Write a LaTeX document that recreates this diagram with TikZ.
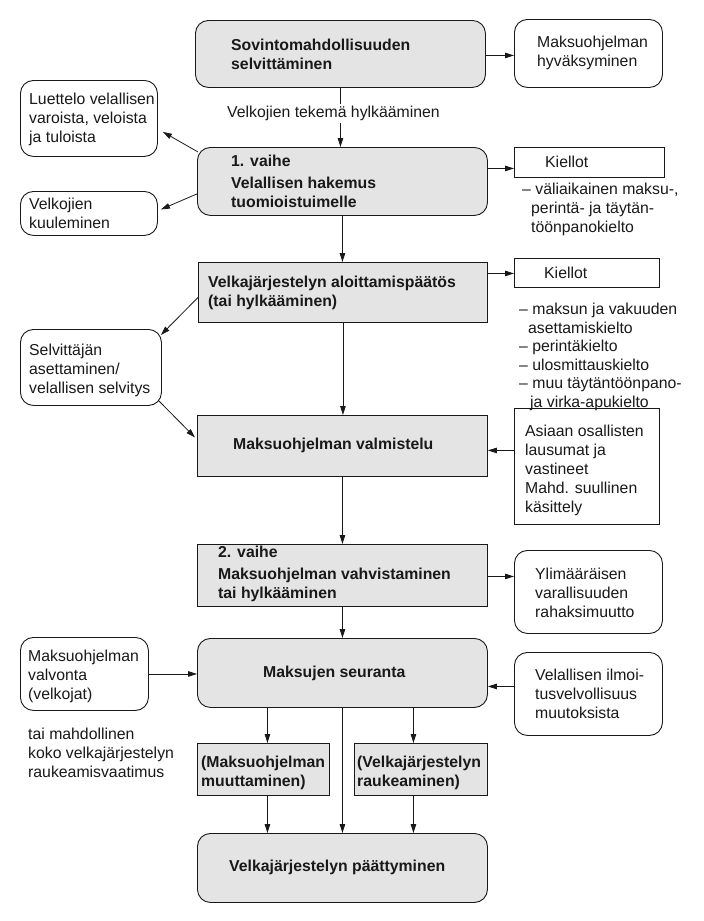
\documentclass[tikz,border=0pt]{standalone}
\usepackage{fontspec}
\setmainfont{Liberation Sans}
\usetikzlibrary{arrows.meta}
\definecolor{boxgray}{RGB}{228,228,228}
\definecolor{ink}{RGB}{25,25,25}
\tikzset{
  base/.style={draw=ink, line width=0.9pt, anchor=north west, inner sep=0pt},
  grayround/.style={base, fill=boxgray, rounded corners=13pt},
  grayrect/.style={base, fill=boxgray},
  whiteround/.style={base, fill=white, rounded corners=13pt},
  whiterect/.style={base, fill=white},
  txt/.style={anchor=west, inner sep=0pt, align=left, font=\fontsize{15.8}{19}\selectfont, text=ink},
  txtb/.style={txt, font=\fontsize{15.8}{19}\selectfont\bfseries},
  arr/.style={draw=ink, line width=0.8pt, -{Triangle[length=9pt,width=5.5pt]}},
}
\begin{document}
\begin{tikzpicture}[x=1pt,y=-1pt]
\useasboundingbox (0,0) rectangle (704,921);
\fill[white] (0,0) rectangle (704,921);

% ---- boxes ----
\node[grayround, minimum width=290pt, minimum height=67pt] (b1) at (195,20) {};
\node[whiteround, minimum width=148pt, minimum height=68pt] (hyv) at (514,19) {};
\node[whiteround, minimum width=137pt, minimum height=76pt] (lut) at (20,80) {};
\node[grayround, minimum width=290pt, minimum height=68pt] (b2) at (197,147) {};
\node[whiterect, minimum width=150pt, minimum height=30pt] (k1) at (514,147) {};
\node[whiteround, minimum width=137pt, minimum height=44pt] (kuul) at (20,191) {};
\node[grayrect, minimum width=289pt, minimum height=60pt] (b3) at (198,262) {};
\node[whiterect, minimum width=145pt, minimum height=29pt] (k2) at (514,258) {};
\node[whiteround, minimum width=141pt, minimum height=76pt] (sel) at (20,329) {};
\node[grayrect, minimum width=290pt, minimum height=61pt] (b4) at (197,415) {};
\node[whiterect, minimum width=145pt, minimum height=116pt] (asi) at (514,408) {};
\node[grayrect, minimum width=290pt, minimum height=62pt] (b5) at (197,544) {};
\node[whiteround, minimum width=148pt, minimum height=83pt] (yli) at (514,550) {};
\node[grayround, minimum width=290pt, minimum height=69pt] (b6) at (197,638) {};
\node[whiteround, minimum width=128pt, minimum height=73pt] (valv) at (20,637) {};
\node[whiteround, minimum width=148pt, minimum height=83pt] (ilm) at (514,652) {};
\node[grayrect, minimum width=132pt, minimum height=52pt] (bm) at (197,743) {};
\node[grayrect, minimum width=133pt, minimum height=52pt] (br) at (354,743) {};
\node[grayround, minimum width=290pt, minimum height=69pt] (bf) at (197,833) {};

% ---- texts ----
\node[txtb] (t1) at (231,54) {Sovintomahdollisuuden\\selvittäminen};
\node[txt] (thyv) at (537,52.5) {Maksuohjelman\\hyväksyminen};
\node[txt] (tlut) at (29,119) {Luettelo velallisen\\varoista, veloista\\ja tuloista};
\node[txtb] (t2) at (231,181.5) {1. vaihe\\[3pt]Velallisen hakemus\\tuomioistuimelle};
\node[txt] (tk1) at (545,162) {Kiellot};
\node[txt] (tk1l) at (522,209) {– väliaikainen maksu-,\\\hspace*{9pt}perintä- ja täytän-\\\hspace*{9pt}töönpanokielto};
\node[txt] (tkuul) at (29,213) {Velkojien\\kuuleminen};
\node[txtb] (t3) at (208,293) {Velkajärjestelyn aloittamispäätös\\(tai hylkääminen)};
\node[txt] (tk2) at (544,272.5) {Kiellot};
\node[txt, font=\fontsize{15.8}{18.6}\selectfont] (tk2l) at (519,357) {– maksun ja vakuuden\\\hspace*{9pt}asettamiskielto\\– perintäkielto\\– ulosmittauskielto\\– muu täytäntöönpano-\\\hspace*{11pt}ja virka-apukielto};
\node[txt] (tsel) at (29,370) {Selvittäjän\\asettaminen/\\velallisen selvitys};
\node[txtb] (t4) at (233,445.5) {Maksuohjelman valmistelu};
\node[txt] (tasi) at (525,470) {Asiaan osallisten\\lausumat ja\\vastineet\\Mahd. suullinen\\käsittely};
\node[txtb] (t5) at (218,574) {2. vaihe\\[3pt]Maksuohjelman vahvistaminen\\tai hylkääminen};
\node[txt] (tyli) at (535,593) {Ylimääräisen\\varallisuuden\\rahaksimuutto};
\node[txtb] (t6) at (263,673) {Maksujen seuranta};
\node[txt] (tvalv) at (28,676) {Maksuohjelman\\valvonta\\(velkojat)};
\node[txt] (tilm) at (535,694) {Velallisen ilmoi-\\tusvelvollisuus\\muutoksista};
\node[txt] (ttai) at (28,752.5) {tai mahdollinen\\koko velkajärjestelyn\\raukeamisvaatimus};
\node[txtb] (tbm) at (201,772.5) {(Maksuohjelman\\muuttaminen)};
\node[txtb] (tbr) at (357,772.5) {(Velkajärjestelyn\\raukeaminen)};
\node[txtb] (tbf) at (229,867) {Velkajärjestelyn päättyminen};

% ---- connectors ----
\draw[arr] ([yshift=-1.5pt]b1.east) -- ([yshift=-1.5pt]b1.east -| hyv.west);
\draw[arr] (b1.south) -- node[pos=0.43, xshift=-7pt, fill=white, inner sep=2pt, font=\fontsize{15.8}{19}\selectfont, text=ink] (lab) {Velkojien tekemä hylkääminen} (b1.south |- b2.north);
\draw[arr] ([shift={(1pt,-5pt)}]b2.north west) -- ([shift={(5pt,25pt)}]lut.south east);
\draw[arr] ([yshift=22pt]b2.south west) -- ([shift={(3pt,4pt)}]kuul.east);
\draw[arr] ([yshift=13pt]b2.east) -- ([yshift=13pt]b2.east -| k1.west);
\draw[arr] (b2.south) -- (b2.south |- b3.north);
\draw[arr] ([yshift=19pt]b3.east) -- ([yshift=19pt]b3.east -| k2.west);
\draw[arr] ([yshift=-5pt]b3.west) -- ([shift={(-1pt,-6pt)}]sel.north east);
\draw[arr] ([shift={(-3pt,5pt)}]sel.south east) -- ([shift={(-2pt,8.5pt)}]b4.west);
\draw[arr] (b3.south) -- (b3.south |- b4.north);
\draw[arr] ([yshift=-4.5pt]b4.east -| asi.west) -- ([yshift=-4.5pt]b4.east);
\draw[arr] (b4.south) -- (b4.south |- b5.north);
\draw[arr] ([yshift=-1pt]b5.east) -- ([yshift=-1pt]b5.east -| yli.west);
\draw[arr] (b5.south) -- (b5.south |- b6.north);
\draw[arr] (valv.east) -- (valv.east -| b6.west);
\draw[arr] ([yshift=-13.5pt]b6.east -| ilm.west) -- ([yshift=-13.5pt]b6.east);
\draw[arr] ([xshift=4pt]bm.north |- b6.south) -- ([xshift=4pt]bm.north);
\draw[arr] ([xshift=-7.5pt]br.north |- b6.south) -- ([xshift=-7.5pt]br.north);
\draw[arr] (b6.south) -- (b6.south |- bf.north);
\draw[arr] ([xshift=4pt]bm.south) -- ([xshift=4pt]bm.south |- bf.north);
\draw[arr] ([xshift=-7.5pt]br.south) -- ([xshift=-7.5pt]br.south |- bf.north);
\end{tikzpicture}
\end{document}
